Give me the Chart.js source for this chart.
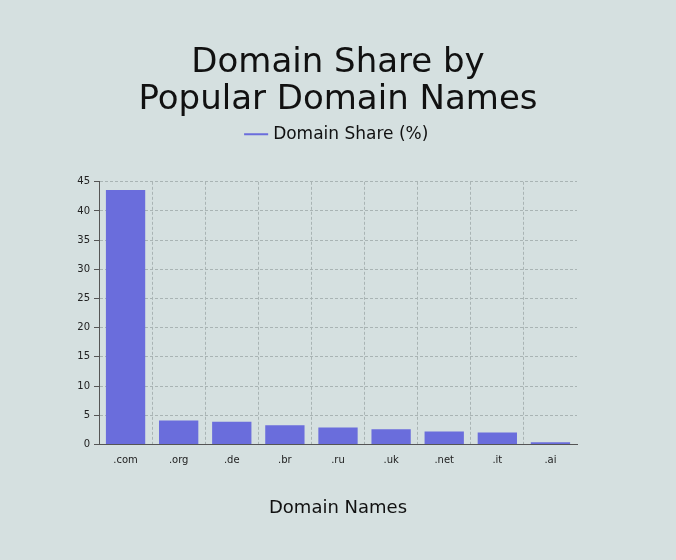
<!DOCTYPE html>
<html>
<head>
<meta charset="utf-8">
<script src="https://cdn.jsdelivr.net/npm/chart.js@4/dist/chart.umd.min.js"></script>
<style>
  html, body { margin: 0; padding: 0; background: #d5e0e0; }
  #wrap { width: 676px; height: 560px; }
</style>
</head>
<body>
<div id="wrap"><canvas id="domainChart" width="676" height="560"></canvas></div>
<script>
const domains = [".com", ".org", ".de", ".br", ".ru", ".uk", ".net", ".it", ".ai"];
const shares = [43.6, 4.1, 3.9, 3.3, 2.9, 2.6, 2.2, 2.05, 0.35];
const yTicks = [0, 5, 10, 15, 20, 25, 30, 35, 40, 45];

const barColor = "#6a6ddc";
const gridColor = "#a9b4b4";
const font = "'DejaVu Sans', sans-serif";

// extra room under the legend
const legendSpace = {
  id: "legendSpace",
  beforeInit(chart) {
    const fit = chart.legend.fit;
    chart.legend.fit = function () {
      fit.bind(chart.legend)();
      this.height += 29;
    };
  }
};

const ctx = document.getElementById("domainChart").getContext("2d");
new Chart(ctx, {
  type: "bar",
  data: {
    labels: domains,
    datasets: [{
      label: "Domain Share (%)",
      data: shares,
      backgroundColor: barColor,
      borderWidth: 0,
      categoryPercentage: 0.74,
      barPercentage: 1.0
    }]
  },
  options: {
    responsive: false,
    animation: false,
    layout: { padding: { left: 0, right: 0, top: 0, bottom: 41 } },
    plugins: {
      title: {
        display: true,
        text: ["Domain Share by", "Popular Domain Names"],
        color: "#111",
        font: { family: font, size: 34, weight: "normal", lineHeight: 1.1 },
        padding: { top: 44, bottom: 1 }
      },
      legend: {
        display: true,
        labels: {
          usePointStyle: true,
          boxWidth: 26,
          color: "#111",
          font: { family: font, size: 17 },
          padding: 6,
          generateLabels: function (chart) {
            return [{
              text: "Domain Share (%)",
              strokeStyle: barColor,
              fillStyle: barColor,
              lineWidth: 2,
              pointStyle: "line",
              fontColor: "#111",
              datasetIndex: 0
            }];
          }
        }
      },
      tooltip: { enabled: false }
    },
    scales: {
      x: {
        grid: {
          display: true,
          offset: true,
          color: c => (c.type === "tick" ? gridColor : "transparent"),
          drawTicks: false
        },
        border: { display: true, color: "#555", width: 1, dash: [3, 2] },
        ticks: { color: "#222", font: { family: font, size: 10 }, padding: 10 },
        title: {
          display: true,
          text: "Domain Names",
          color: "#111",
          font: { family: font, size: 18 },
          padding: { top: 21, bottom: 0 }
        }
      },
      y: {
        min: 0,
        max: 45,
        afterBuildTicks: function (axis) {
          axis.ticks = yTicks.map(v => ({ value: v }));
        },
        afterFit: function (axis) { axis.width = 99; },
        grid: {
          color: gridColor,
          tickColor: "#555",
          tickLength: 5
        },
        border: { display: true, color: "#555", width: 1, dash: [3, 2] },
        ticks: { color: "#222", font: { family: font, size: 10 }, padding: 4 }
      },
      yRight: {
        position: "right",
        display: true,
        grid: { display: false },
        border: { display: false },
        ticks: { display: false },
        afterFit: function (axis) { axis.width = 99; }
      }
    }
  },
  plugins: [legendSpace]
});
</script>
</body>
</html>
